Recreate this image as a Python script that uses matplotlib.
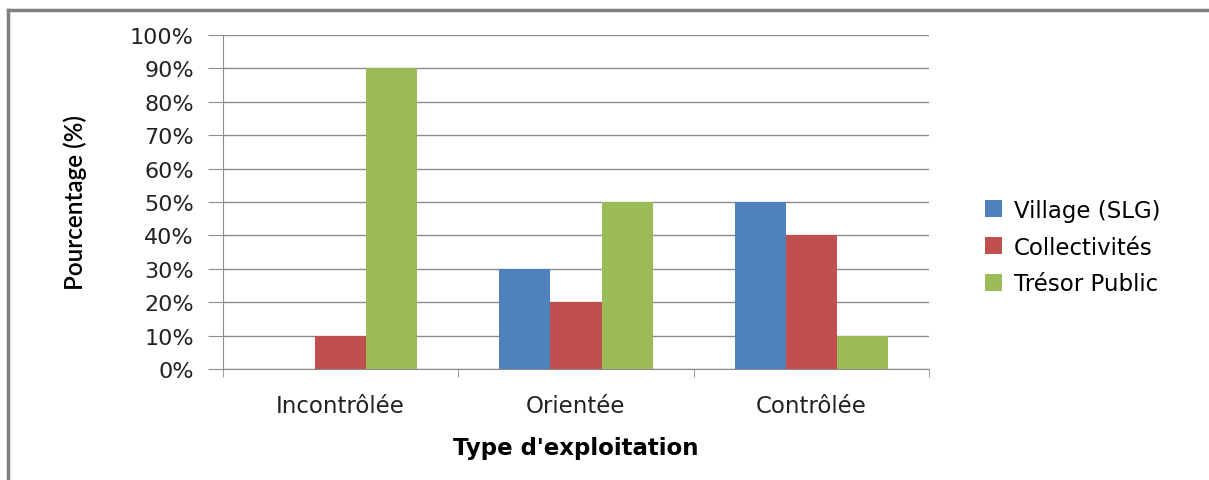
import matplotlib.pyplot as plt
import numpy as np
from matplotlib.ticker import PercentFormatter

categories = ["Incontrôlée", "Orientée", "Contrôlée"]
series_names = ["Village (SLG)", "Collectivités", "Trésor Public"]
village = [0, 30, 50]
collectivites = [10, 20, 40]
tresor = [90, 50, 10]
colors = ["#4F81BD", "#C0504D", "#9BBB59"]

plt.rcParams['font.family'] = ['DejaVu Sans']

fig = plt.figure(figsize=(12.09, 4.81), dpi=100)
ax = fig.add_axes([0.1844, 0.2308, 0.5840, 0.6944])

x = np.arange(len(categories))
width = 0.217
for i, (vals, name) in enumerate(zip([village, collectivites, tresor], series_names)):
    ax.bar(x + (i - 1) * width, vals, width, color=colors[i], label=name, zorder=3)

ax.set_xlim(-0.5, len(categories) - 0.5)
ax.set_ylim(0, 100)
ax.set_yticks(np.arange(0, 101, 10))
ax.yaxis.set_major_formatter(PercentFormatter(decimals=0))
ax.grid(axis='y', color='#8c8c8c', linewidth=1, zorder=0)

for s in ['top', 'right']:
    ax.spines[s].set_visible(False)
ax.spines['left'].set_color('#8c8c8c')
ax.spines['bottom'].set_color('#8c8c8c')

ax.set_xticks(x)
ax.set_xticklabels(categories, fontsize=16.5, color='#222222')
ax.tick_params(axis='x', length=0, pad=18)
ax.set_xticks(np.arange(-0.5, len(categories)), minor=True)
ax.tick_params(axis='x', which='minor', length=6, color='#8c8c8c')
ax.tick_params(axis='y', length=11, color='#8c8c8c', labelsize=16, labelcolor='#222222', pad=10)

ax.set_xlabel("Type d'exploitation", fontsize=16.5, fontweight='bold', va='center')
ax.xaxis.set_label_coords(0.5, -0.2365)
ax.set_ylabel("Pourcentage (%)", family=['Lato', 'DejaVu Sans'], fontsize=17.5,
              fontweight='semibold', va='center')
ax.yaxis.set_label_coords(-0.2096, 0.5)

ax.legend(loc='center left', bbox_to_anchor=(1.05, 0.365), frameon=False,
          fontsize=16.5, handlelength=0.75, handleheight=0.75, handletextpad=0.5,
          labelspacing=0.6)

# outer border (top and left visible)
fig.add_artist(plt.Line2D([8 / 1209, 8 / 1209], [0, 1 - 11 / 481],
                          transform=fig.transFigure, color='#808080', linewidth=2.5))
fig.add_artist(plt.Line2D([8 / 1209, 1], [1 - 11 / 481, 1 - 11 / 481],
                          transform=fig.transFigure, color='#808080', linewidth=2.5))

fig.savefig("out.png", dpi=100)
